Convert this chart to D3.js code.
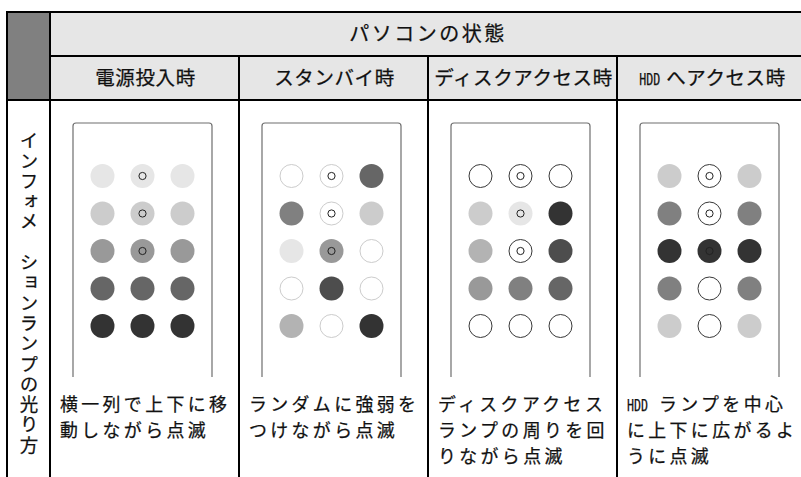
<!DOCTYPE html>
<html><head><meta charset="utf-8">
<script src="https://cdn.jsdelivr.net/npm/d3@7"></script>
<style>
html,body{margin:0;padding:0;background:#fff;}
svg{display:block;}
text{font-family:"Noto Sans CJK JP","Noto Sans",sans-serif;fill:#111;stroke:#111;stroke-width:0.25px;}
</style></head>
<body>
<svg id="chart" width="801" height="477"></svg>
<script>
// ---- data ----
const groupTitle = "パソコンの状態";
const rowTitle = "インフォメ　ションランプの光り方";
const states = ["電源投入時", "スタンバイ時", "ディスクアクセス時", "HDD へアクセス時"];
const descriptions = [
  ["横一列で上下に移", "動しながら点滅"],
  ["ランダムに強弱を", "つけながら点滅"],
  ["ディスクアクセス", "ランプの周りを回", "りながら点滅"],
  ["HDD ランプを中心", "に上下に広がるよ", "うに点滅"]
];
// lamp intensity (0 = off), 5 rows x 3 columns per state
const powerOnLamps   = [[0.1,0.1,0.1],[0.2,0.2,0.2],[0.4,0.4,0.4],[0.6,0.6,0.6],[0.8,0.8,0.8]];
const standbyLamps   = [[0,0,0.6],[0.5,0,0.2],[0.1,0.4,0],[0,0.7,0],[0.3,0,0.8]];
const diskLamps      = [[0,0,0],[0.2,0.1,0.8],[0.3,0,0.7],[0.4,0.5,0.6],[0,0,0]];
const hddLamps       = [[0.2,0,0.2],[0.5,0,0.5],[0.8,0.8,0.8],[0.5,0,0.5],[0.2,0,0.2]];
const lampsByState = [powerOnLamps, standbyLamps, diskLamps, hddLamps];
// outline intensity of off lamps per state
const offOutline = [0.2, 0.2, 0.78, 0.78];
// indicator rings (HDD lamp position): rows with a ring in the centre column
const ringRows = [0, 1, 2];
const ringCol = 1;

// ---- drawing ----
const svg = d3.select("#chart");
const W = 801, H = 477;
const tableLeft = 7, labelRight = 50, tableRight = 806;
const y0 = 12, y1 = 56, y2 = 100;

const col = d3.scaleBand().domain(states).range([labelRight, tableRight]);
const grey = d3.scaleLinear().domain([0, 1]).range(["#ffffff", "#000000"]).interpolate(d3.interpolateRgb);

// header backgrounds
svg.append("rect").attr("x", tableLeft).attr("y", y0).attr("width", labelRight - tableLeft).attr("height", y2 - y0).attr("fill", "#808080");
svg.append("rect").attr("x", labelRight).attr("y", y0).attr("width", tableRight - labelRight).attr("height", y2 - y0).attr("fill", "#e6e6e6");

// header texts
svg.append("text").attr("x", (labelRight + tableRight) / 2).attr("y", (y0 + y1) / 2 + 7)
  .attr("text-anchor", "middle").attr("font-size", 20).attr("letter-spacing", 2.5).text(groupTitle);

function mixedText(g, str, size, ls, gap) {
  // 'HDD' in a narrow latin face, rest in CJK
  let x = 0;
  if (str.startsWith("HDD")) {
    g.append("text").attr("x", 0).attr("y", 0).attr("font-size", 16)
      .style("font-family", "'DejaVu Sans Mono',monospace")
      .attr("textLength", 21).attr("lengthAdjust", "spacingAndGlyphs").text("HDD");
    x = gap;
    str = str.slice(3).trim();
  }
  const t = g.append("text").attr("x", x).attr("y", 0).attr("font-size", size).attr("letter-spacing", ls).text(str);
  return t;
}

states.forEach((s, i) => {
  const g = svg.append("g");
  mixedText(g, s, 19.5, 0.6, 27);
  const bb = g.node().getBBox();
  const cx = col(s) + col.bandwidth() / 2;
  g.attr("transform", `translate(${cx - bb.width / 2 + 1},${(y1 + y2) / 2 + 7})`);
});

// panels with lamps
const rowY = d3.scalePoint().domain(d3.range(5)).range([176, 326]);
states.forEach((s, i) => {
  const px = col(s) + 23, pw = 139, ptop = 123, pbottom = 377, r = 3;
  const g = svg.append("g");
  g.append("path")
    .attr("d", `M${px},${pbottom}V${ptop + r}Q${px},${ptop} ${px + r},${ptop}H${px + pw - r}Q${px + pw},${ptop} ${px + pw},${ptop + r}V${pbottom}`)
    .attr("fill", "none").attr("stroke", "#6e6e6e").attr("stroke-width", 1.2);
  const lampX = d3.scalePoint().domain([0, 1, 2]).range([px + pw / 2 - 40, px + pw / 2 + 40]);
  const cells = [];
  lampsByState[i].forEach((row, ri) => row.forEach((v, ci) => cells.push({ri, ci, v})));
  g.selectAll("circle.lamp").data(cells).join("circle").attr("class", "lamp")
    .attr("cx", d => lampX(d.ci)).attr("cy", d => rowY(d.ri)).attr("r", d => d.v > 0 ? 12 : 11.5)
    .attr("fill", d => d.v > 0 ? grey(d.v) : "#ffffff")
    .attr("stroke", d => d.v > 0 ? "none" : grey(offOutline[i]))
    .attr("stroke-width", 1);
  g.selectAll("circle.ring").data(ringRows).join("circle").attr("class", "ring")
    .attr("cx", lampX(ringCol)).attr("cy", d => rowY(d)).attr("r", 3.6)
    .attr("fill", "none").attr("stroke", "#222").attr("stroke-width", 1);
});

// descriptions
descriptions.forEach((lines, i) => {
  const x = col(states[i]) + 10;
  lines.forEach((ln, li) => {
    const g = svg.append("g").attr("transform", `translate(${x},${411 + li * 26})`);
    mixedText(g, ln, 17.9, 3.4, 32);
  });
});

// vertical row title (single text, vertical writing mode)
svg.append("text")
  .attr("x", 29).attr("y", 131)
  .style("writing-mode", "vertical-rl")
  .style("text-orientation", "upright")
  .attr("font-size", 18.5).attr("letter-spacing", 1.8)
  .text(rowTitle);

// grid lines
const lines = [
  [tableLeft, y0, tableRight, y0],
  [labelRight, y1, tableRight, y1],
  [tableLeft, y2, tableRight, y2],
  [tableLeft, y0, tableLeft, H + 2],
  [labelRight, y0, labelRight, H + 2]
];
states.slice(1).forEach(s => lines.push([col(s), y1, col(s), H + 2]));
svg.append("g").selectAll("line").data(lines).join("line")
  .attr("x1", d => d[0]).attr("y1", d => d[1]).attr("x2", d => d[2]).attr("y2", d => d[3])
  .attr("stroke", "#000").attr("stroke-width", 2).attr("stroke-linecap", "square");
</script>
</body></html>
